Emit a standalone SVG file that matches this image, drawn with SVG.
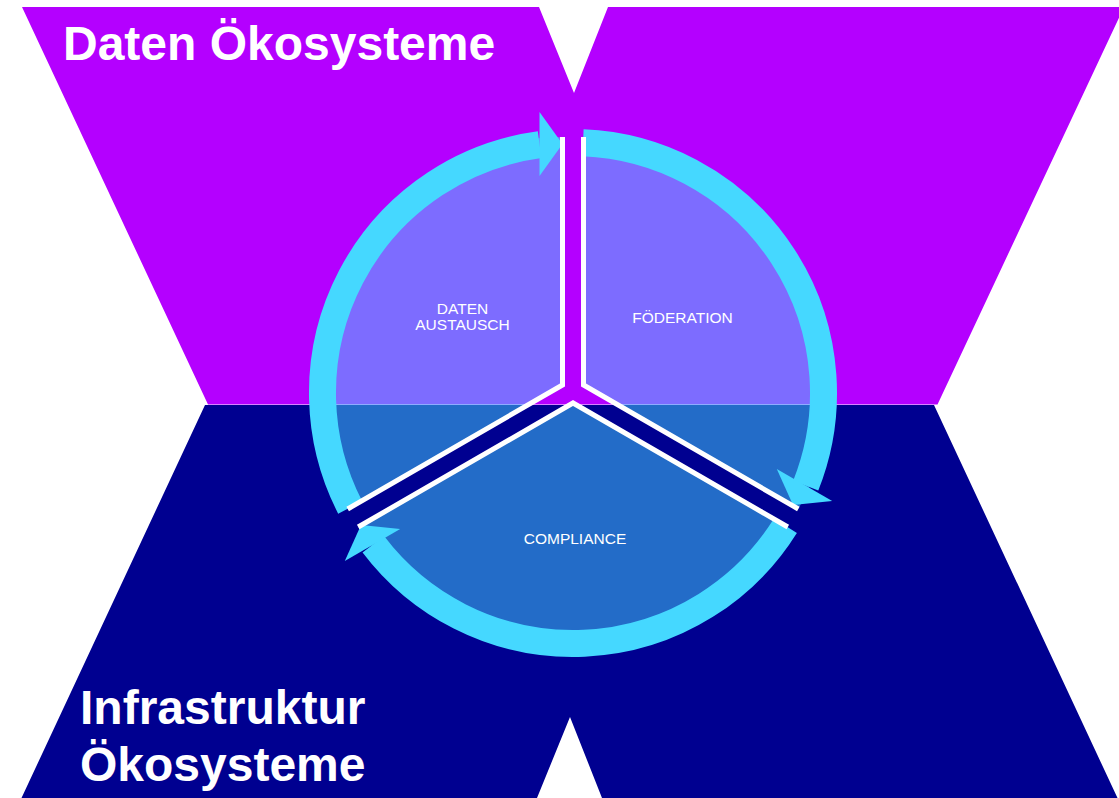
<svg xmlns="http://www.w3.org/2000/svg" width="1119" height="798" viewBox="0 0 1119 798">
  <style>
    .title { font-family: "Liberation Sans", Arial, sans-serif; font-weight: bold; font-size: 48px; fill: #FFFFFF; }
    .label { font-family: "Liberation Sans", Arial, sans-serif; font-size: 15.5px; fill: #FFFFFF; text-anchor: middle; }
    .sector { fill: #45D8FF; fill-opacity: 0.5; }
    .edge { fill: none; stroke: #FFFFFF; stroke-width: 5; stroke-linejoin: miter; stroke-miterlimit: 10; }
    .ring { fill: none; stroke: #45D8FF; stroke-width: 27; stroke-linecap: butt; }
    .head { fill: #45D8FF; }
  </style>
  <rect width="1119" height="798" fill="#FFFFFF"/>

  <g id="daten-oekosysteme">
    <polygon points="22,7 539,7 574,93 608,7 1124,7 937.5,404.6 208,404.6" fill="#B400FF"/>
    <text class="title" x="63" y="60">Daten Ökosysteme</text>
  </g>

  <g id="infrastruktur-oekosysteme">
    <polygon points="205,405 934,405 1117.5,798 602,798 570,717 537,798 21.5,798" fill="#000090"/>
    <text class="title" x="80" y="724">Infrastruktur</text>
    <text class="title" x="80" y="781">Ökosysteme</text>
  </g>

  <g id="daten-austausch">
    <path class="sector" d="M562.5,385 L347.7,509 A248,248 0 0 1 562.5,137 Z"/>
  </g>
  <g id="foederation">
    <path class="sector" d="M583.5,385 L583.5,137 A248,248 0 0 1 798.3,509 Z"/>
  </g>
  <g id="compliance">
    <path class="sector" d="M573,403 L787.8,527 A248,248 0 0 1 358.2,527 Z"/>
  </g>

  <g id="connectors">
    <path class="ring" d="M350.18,507.47 A250.5,250.5 0 0 1 539.6,144.7"/>
    <polygon class="head" points="539.5,112 562.5,144 539.5,176"/>
    <path class="ring" d="M583.05,142.7 A250.5,250.5 0 0 1 805.75,485.62"/>
    <polygon class="head" points="776.8,469.1 793,505 832.2,501.1"/>
    <path class="ring" d="M785.44,525.74 A250.5,250.5 0 0 1 373.32,544.25"/>
    <polygon class="head" points="400.2,528.9 361,525 344.8,560.9"/>
  </g>

  <g id="dividers">
    <polyline class="edge" points="347.7,509 562.5,385 562.5,137"/>
    <polyline class="edge" points="583.5,137 583.5,385 798.3,509"/>
    <polyline class="edge" points="787.8,527 573,403 358.2,527"/>
  </g>

  <g id="labels">
    <text class="label" x="462.5" y="314">DATEN</text>
    <text class="label" x="462.5" y="330">AUSTAUSCH</text>
    <text class="label" x="682.5" y="322.7">FÖDERATION</text>
    <text class="label" x="575" y="544">COMPLIANCE</text>
  </g>
</svg>
